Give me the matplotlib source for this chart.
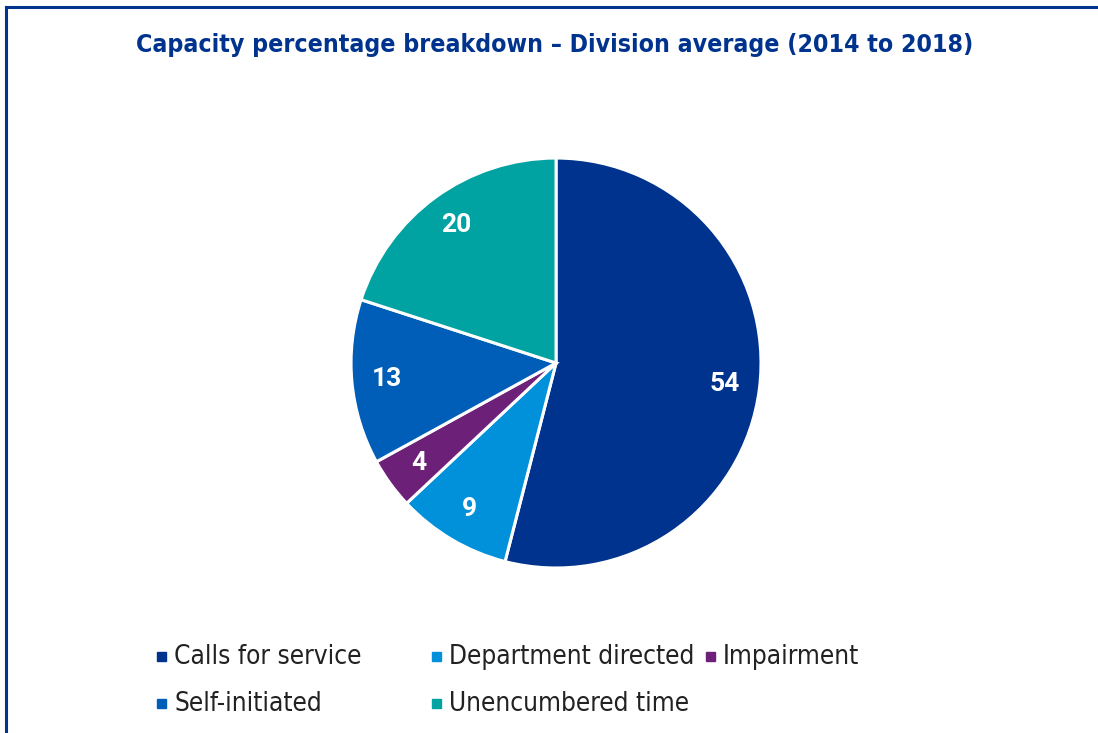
import matplotlib.pyplot as plt
from matplotlib.lines import Line2D
from matplotlib.patches import Rectangle

# data
categories = ["Calls for service", "Department directed", "Impairment",
              "Self-initiated", "Unencumbered time"]
values = [54, 9, 4, 13, 20]
colors = ["#00338D", "#0091DA", "#6D2077", "#005EB8", "#00A3A1"]

navy = "#00338D"
narrow = ["DejaVu Sans"]

fig = plt.figure(figsize=(10.98, 7.33), dpi=100)

# frame lines (top and left only)
fig.add_artist(Line2D([0.0055, 1.0], [0.9905, 0.9905], color=navy, lw=2.2,
                      transform=fig.transFigure))
fig.add_artist(Line2D([0.0055, 0.0055], [0.0, 0.9905], color=navy, lw=2.2,
                      transform=fig.transFigure))

fig.text(0.5055, 0.9386, "Capacity percentage breakdown \u2013 Division average (2014 to 2018)",
         ha="center", va="center", fontsize=17.8, fontweight="bold", color=navy,
         family=narrow, fontstretch="condensed")

ax = fig.add_axes([0.3197, 0.2251, 0.3734, 0.5593])
wedges, texts, autotexts = ax.pie(
    values, colors=colors, startangle=90, counterclock=False,
    autopct=lambda p: "%d" % round(p), pctdistance=0.83,
    wedgeprops=dict(edgecolor="white", linewidth=2.2))
for t in autotexts:
    t.set_color("white")
    t.set_fontsize(19)
    t.set_fontweight("bold")
    t.set_family(["Roboto", "DejaVu Sans"])
ax.set_xlim(-1, 1)
ax.set_ylim(-1, 1)
ax.set_aspect("equal")
ax.axis("off")

# legend drawn by hand, row-major in three columns
col_x = [0.1430, 0.3935, 0.6430]
row_y = [0.1037, 0.0396]
for i, (name, c) in enumerate(zip(categories, colors)):
    if i < 3:
        x, y = col_x[i], row_y[0]
    else:
        x, y = col_x[i - 3], row_y[1]
    sq_w = 9 / 1098
    sq_h = 9 / 733
    fig.add_artist(Rectangle((x, y - sq_h / 2), sq_w, sq_h, color=c,
                             transform=fig.transFigure))
    fig.text(x + 17 / 1098, y, name, ha="left", va="center", fontsize=18.8,
             color="#222222", family=narrow, fontstretch="condensed")

fig.savefig("out.png", dpi=100, facecolor="white")
